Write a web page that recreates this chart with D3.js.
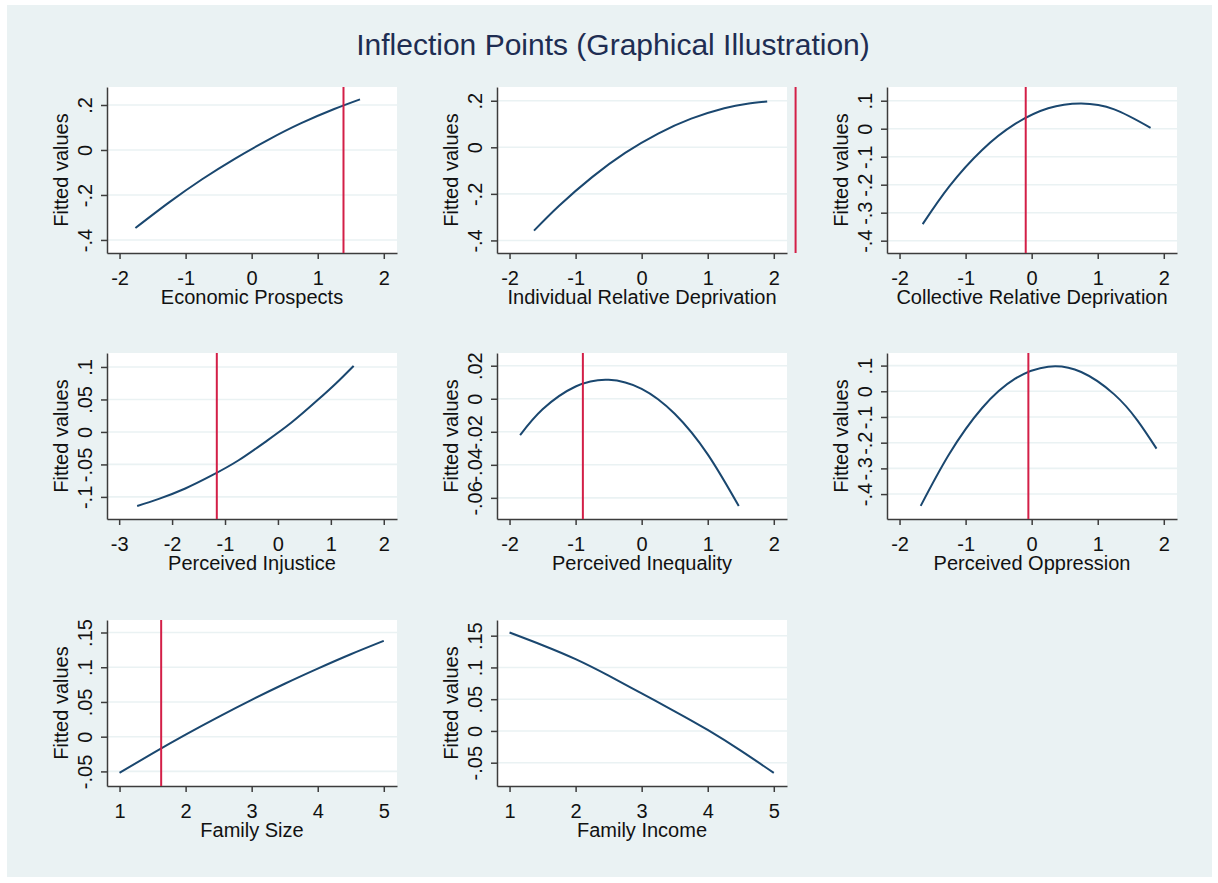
<!DOCTYPE html>
<html>
<head>
<meta charset="utf-8">
<script src="https://cdn.jsdelivr.net/npm/d3@7"></script>
<style>
  body { margin: 0; background: #fff; }
  svg { display: block; }
  text { font-family: "Liberation Sans", Arial, Helvetica, sans-serif; }
</style>
</head>
<body>
<div id="chart"></div>
<script>
// ── DATA ──────────────────────────────────────────────────────────────────
const chartTitle = 'Inflection Points (Graphical Illustration)';
const yTitle = 'Fitted values';

const xTitles = [
  'Economic Prospects', 'Individual Relative Deprivation', 'Collective Relative Deprivation',
  'Perceived Injustice', 'Perceived Inequality', 'Perceived Oppression',
  'Family Size', 'Family Income'
];

const xTicks = [
  [-2, -1, 0, 1, 2], [-2, -1, 0, 1, 2], [-2, -1, 0, 1, 2],
  [-3, -2, -1, 0, 1, 2], [-2, -1, 0, 1, 2], [-2, -1, 0, 1, 2],
  [1, 2, 3, 4, 5], [1, 2, 3, 4, 5]
];
const yTicks = [
  [-0.4, -0.2, 0, 0.2], [-0.4, -0.2, 0, 0.2], [-0.4, -0.3, -0.2, -0.1, 0, 0.1],
  [-0.1, -0.05, 0, 0.05, 0.1], [-0.06, -0.04, -0.02, 0, 0.02], [-0.4, -0.3, -0.2, -0.1, 0, 0.1],
  [-0.05, 0, 0.05, 0.1, 0.15], [-0.05, 0, 0.05, 0.1, 0.15]
];

// axis extents
const xExtents = [
  [-2.19, 2.2], [-2.19, 2.2], [-2.19, 2.2],
  [-3.23, 2.25], [-2.19, 2.2], [-2.19, 2.2],
  [0.81, 5.2], [0.81, 5.2]
];
const yExtents = [
  [-0.458, 0.28], [-0.454, 0.259], [-0.444, 0.149],
  [-0.134, 0.1215], [-0.0728, 0.0277], [-0.497, 0.149],
  [-0.071, 0.168], [-0.0867, 0.1747]
];

// inflection points (red vertical lines); none on the last panel
const inflections = [1.39, 2.33, -0.09, -1.155, -0.89, -0.05, 1.63, null];

// fitted curves [x, y]
const econPts = [[-1.76, -0.347], [-1.25, -0.233], [-0.75, -0.130], [-0.25, -0.038], [0.25, 0.045], [0.75, 0.119], [1.25, 0.182], [1.64, 0.225]];
const indivPts = [[-1.63, -0.358], [-1.25, -0.251], [-0.75, -0.128], [-0.25, -0.024], [0.25, 0.059], [0.75, 0.123], [1.25, 0.168], [1.6, 0.187], [1.9, 0.197]];
const collPts = [[-1.65, -0.341], [-1.25, -0.207], [-0.75, -0.076], [-0.25, 0.017], [0.25, 0.073], [0.75, 0.090], [1.25, 0.069], [1.8, 0.003]];
const injustPts = [[-2.66, -0.114], [-2.25, -0.103], [-1.75, -0.087], [-1.25, -0.067], [-0.75, -0.044], [-0.25, -0.016], [0.25, 0.014], [0.75, 0.049], [1.1, 0.075], [1.43, 0.1017]];
const inequalPts = [[-1.84, -0.022], [-1.5, -0.0064], [-1.0, 0.0074], [-0.5, 0.0115], [0, 0.006], [0.5, -0.0091], [1.0, -0.0337], [1.47, -0.065]];
const oppressPts = [[-1.68, -0.446], [-1.25, -0.245], [-0.75, -0.065], [-0.25, 0.049], [0.25, 0.0957], [0.75, 0.075], [1.25, -0.012], [1.6, -0.113], [1.89, -0.223]];
const famSizePts = [[1.0, -0.052], [1.5, -0.024], [2.0, 0.003], [2.5, 0.0286], [3.0, 0.053], [3.5, 0.0762], [4.0, 0.098], [4.5, 0.1187], [5.0, 0.138]];
const famIncPts = [[1.0, 0.155], [1.5, 0.135], [2.0, 0.113], [2.5, 0.087], [3.0, 0.059], [3.5, 0.031], [4.0, 0.0016], [4.5, -0.031], [5.0, -0.066]];

const curves = [econPts, indivPts, collPts, injustPts, inequalPts, oppressPts, famSizePts, famIncPts];

// ── LAYOUT ────────────────────────────────────────────────────────────────
const W = 1218, H = 883;
const colLeft = [107, 497, 887];
const rowTop = [87, 353, 620];
const PW = 290, PH = 166;

const BG = '#eaf2f3', NAVY = '#1a476f', RED = '#d31f47', AXIS = '#3c3c3c';

const svg = d3.select('#chart').append('svg').attr('width', W).attr('height', H);
svg.append('rect').attr('width', W).attr('height', H).attr('fill', '#fff');
svg.append('rect').attr('x', 7).attr('y', 5).attr('width', 1205).attr('height', 872).attr('fill', BG);

svg.append('text').attr('x', 613).attr('y', 55).attr('text-anchor', 'middle')
  .attr('font-size', '30px').attr('fill', '#1e2d52').text(chartTitle);

// stata-like labels with plain hyphen: ".2", "-.05", "-2"
const fmt = v => String(+v.toFixed(3)).replace(/^(-?)0\./, '$1.');

curves.forEach((pts, i) => {
  const left = colLeft[i % 3], top = rowTop[Math.floor(i / 3)];
  const g = svg.append('g').attr('transform', `translate(${left},${top})`);

  const x = d3.scaleLinear().domain(xExtents[i]).range([0, PW]);
  const y = d3.scaleLinear().domain(yExtents[i]).range([PH, 0]);

  g.append('rect').attr('width', PW).attr('height', PH).attr('fill', '#fff');

  // Gridlines
  g.selectAll('.grid').data(yTicks[i]).enter().append('line')
    .attr('x1', 0).attr('x2', PW).attr('y1', d => y(d)).attr('y2', d => y(d))
    .attr('stroke', BG).attr('stroke-width', 1.6);

  // Axes
  const xa = g.append('g').attr('transform', `translate(0,${PH})`)
    .call(d3.axisBottom(x).tickValues(xTicks[i]).tickSize(6).tickSizeOuter(0).tickFormat(fmt));
  xa.selectAll('text').attr('y', 32).attr('dy', null)
    .attr('font-size', '20px').attr('fill', '#111').attr('font-family', null);

  const ya = g.append('g')
    .call(d3.axisLeft(y).tickValues(yTicks[i]).tickSize(6).tickSizeOuter(0).tickFormat(fmt));
  ya.selectAll('text').attr('x', null).attr('dy', null).attr('text-anchor', 'middle')
    .attr('transform', 'translate(-15,0) rotate(-90)')
    .attr('font-size', '20px').attr('fill', '#111').attr('font-family', null);

  [xa, ya].forEach(a => {
    a.select('.domain').attr('stroke', AXIS).attr('stroke-width', 1.5);
    a.selectAll('line').attr('stroke', AXIS).attr('stroke-width', 1.5);
  });

  // Axis titles
  g.append('text').attr('x', PW / 2).attr('y', PH + 51).attr('text-anchor', 'middle')
    .attr('font-size', '20px').attr('fill', '#111').text(xTitles[i]);
  g.append('text').attr('transform', `translate(-39,${PH / 2}) rotate(-90)`)
    .attr('text-anchor', 'middle').attr('font-size', '20px').attr('fill', '#111').text(yTitle);

  // Fitted curve
  g.append('path').datum(pts)
    .attr('d', d3.line().x(d => x(d[0])).y(d => y(d[1])).curve(d3.curveNatural))
    .attr('fill', 'none').attr('stroke', NAVY).attr('stroke-width', 2);

  // Inflection line
  if (inflections[i] !== null) {
    g.append('line').attr('x1', x(inflections[i])).attr('x2', x(inflections[i]))
      .attr('y1', 0).attr('y2', PH)
      .attr('stroke', RED).attr('stroke-width', 2);
  }
});
</script>
</body>
</html>
